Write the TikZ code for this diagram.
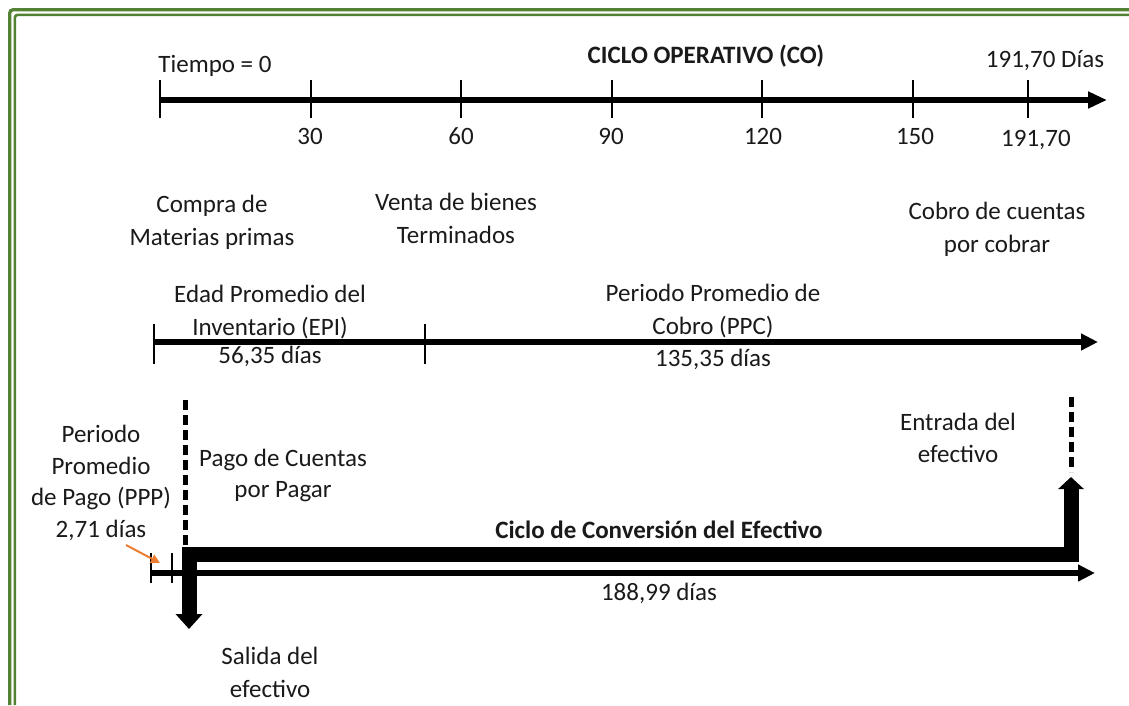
\documentclass[tikz,border=0pt]{standalone}
\usepackage{fontspec}
\setmainfont{Carlito}
\usetikzlibrary{arrows.meta}
\definecolor{framegreen}{HTML}{548235}
\definecolor{arroworange}{HTML}{ED7D31}
\definecolor{txtcol}{HTML}{1A1A1A}
\begin{document}
\begin{tikzpicture}[x=1pt,y=-1pt,
  txt/.style={font=\fontsize{25}{32.5}\selectfont, text=txtcol, inner sep=0pt, anchor=base, align=center},
  btxt/.style={txt, font=\fontsize{25}{32.5}\selectfont\bfseries},
  axisline/.style={line width=6pt, -{Triangle[length=19pt,width=16pt]}},
  thinaxis/.style={line width=5.5pt, -{Triangle[length=17pt,width=16pt]}},
  tickline/.style={line width=2pt},
  frameline/.style={draw=framegreen, rounded corners=3pt},
  dashline/.style={line width=5pt, dash pattern=on 10pt off 5pt},
  cashflow/.style={line width=15pt, line join=miter,
    {Triangle[length=15pt,width=26pt]}-{Triangle[length=12pt,width=25pt]}},
  orangearrow/.style={draw=arroworange, line width=2pt, -{Triangle[length=9pt,width=9pt]}}
]
\useasboundingbox (0,0) rectangle (1129,705);
\fill[white] (0,0) rectangle (1129,705);

% frame (double green line)
\draw[frameline, line width=3.2pt] (9.8,705) -- (9.8,9.8) -- (1129,9.8);
\draw[frameline, line width=2.6pt] (14.8,705) -- (14.8,14.8) -- (1129,14.8);

% ---------- top axis: operating cycle ----------
\coordinate (t0) at (160,100);
\coordinate (tend) at (1107,100);
\draw[axisline] (t0) -- (tend);
\foreach \n/\x in {a/160, b/310.5, c/461, d/611.5, e/762, f/913, g/1028}{
  \coordinate (tk\n) at (\x,100);
  \draw[tickline] ([yshift=-18pt]tk\n) -- ([yshift=20pt]tk\n);
}
\node[txt] (tiempo) at (215,72) {Tiempo = 0};
\node[btxt] (title) at (706,63) {CICLO OPERATIVO (CO)};
\node[txt] (total) at (1045,67) {191,70 Días};
\node[txt] (l30) at (310,144) {30};
\node[txt] (l60) at (461,144) {60};
\node[txt] (l90) at (611,144) {90};
\node[txt] (l120) at (763,144) {120};
\node[txt] (l150) at (915,144) {150};
\node[txt] (l191) at (1036,146) {191,70};

% ---------- events ----------
\node[txt] (compra) at (212,245) {Compra de\\Materias primas};
\node[txt] (venta) at (456,243) {Venta de bienes\\Terminados};
\node[txt] (cobro) at (997,252) {Cobro de cuentas\\por cobrar};

% ---------- second axis: EPI + PPC ----------
\coordinate (s0) at (154,342);
\coordinate (s1) at (425,342);
\coordinate (send) at (1098,342);
\draw[thinaxis] (s0) -- (send);
\draw[tickline] ([yshift=-22pt]s0) -- ([yshift=18pt]s0);
\draw[tickline] ([yshift=-22pt]s1) -- ([yshift=18pt]s1);
\node[txt] (epi) at (270,335) {Edad Promedio del\\Inventario (EPI)};
\node[txt] (epid) at (270,363) {56,35 días};
\node[txt] (ppc) at (713,334) {Periodo Promedio de\\Cobro (PPC)};
\node[txt] (ppcd) at (713,366) {135,35 días};

% ---------- cash conversion cycle ----------
\coordinate (dl0) at (185,400);
\coordinate (dl1) at (185,546);
\coordinate (dr0) at (1071,397);
\coordinate (dr1) at (1071,472);
\draw[dashline] (dl0) -- (dl1);
\draw[dashline] (dr0) -- (dr1);

\coordinate (outtip) at (189,629);
\coordinate (cl) at (189,554);
\coordinate (cr) at (1071,554);
\coordinate (intip) at (1071,477);
\draw[cashflow] (outtip) -- (cl) -- (cr) -- (intip);

\coordinate (b0) at (151,573);
\coordinate (b1) at (172,573);
\coordinate (bend) at (1095,573);
\draw[thinaxis] (b0) -- (bend);
\draw[tickline] ([yshift=-10pt]b0) -- ([yshift=20pt]b0);
\draw[tickline] ([yshift=-10pt]b1) -- ([yshift=20pt]b1);

\node[txt, font=\fontsize{25}{31.5}\selectfont] (ppp) at (101,537) {Periodo\\Promedio\\de Pago (PPP)\\2,71 días};
\coordinate (oa0) at (126,545);
\coordinate (oa1) at (160,563);
\draw[orangearrow] (oa0) -- (oa1);

\node[txt, font=\fontsize{25}{31}\selectfont] (pago) at (283,497) {Pago de Cuentas\\por Pagar};
\node[txt, font=\fontsize{25}{31.5}\selectfont] (entrada) at (958,462) {Entrada del\\efectivo};
\node[txt] (salida) at (270,697) {Salida del\\efectivo};
\node[btxt] (cce) at (659,538) {Ciclo de Conversión del Efectivo};
\node[txt] (cced) at (659,600) {188,99 días};
\end{tikzpicture}
\end{document}
